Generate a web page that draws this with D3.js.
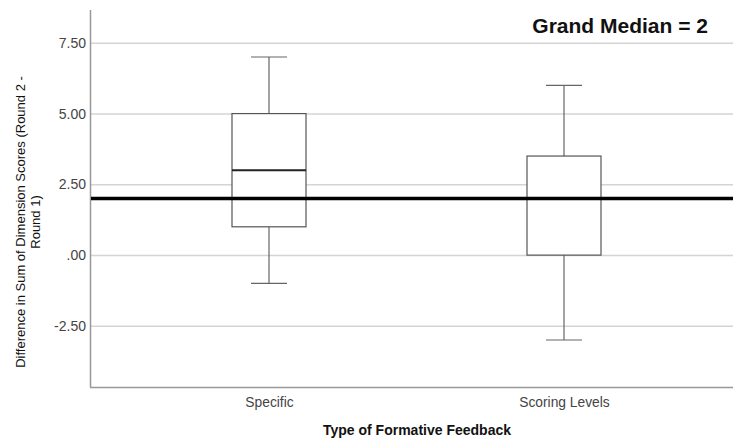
<!DOCTYPE html>
<html><head><meta charset="utf-8">
<script src="https://cdn.jsdelivr.net/npm/d3@7"></script>
<style>body{margin:0;background:#fff}</style>
</head><body>
<svg id="c" width="733" height="439"></svg>
<script>
const categories = ["Specific", "Scoring Levels"];
const mins    = [-1, -3];
const q1s     = [1, 0];
const medians = [3, 2];
const q3s     = [5, 3.5];
const maxs    = [7, 6];
const grandMedian = 2;
const yTicks = [-2.5, 0, 2.5, 5, 7.5];
const yTickLabels = ["-2.50", ".00", "2.50", "5.00", "7.50"];

const svg = d3.select("#c");
const FONT = "Liberation Sans, Arial, sans-serif";
const L = 90, R = 733, T = 10, B = 387;
const y = d3.scaleLinear().domain([-4.66, 8.66]).range([B, T]);
const x = d3.scalePoint().domain(categories).range([269, 564]);
const boxW = 74, capW = 36;

// gridlines
svg.append("g").selectAll("line").data(yTicks).join("line")
  .attr("x1", L).attr("x2", R)
  .attr("y1", d => y(d) + 0.5).attr("y2", d => y(d) + 0.5)
  .attr("stroke", "#d6d3d6").attr("stroke-width", 1.5);

// y axis
const yAxis = d3.axisLeft(y).tickValues(yTicks).tickSize(0).tickPadding(4)
  .tickFormat((d, i) => yTickLabels[i]);
const gy = svg.append("g").attr("transform", `translate(${L},0)`).call(yAxis);
gy.select(".domain").remove();
gy.selectAll("text").attr("font-family", FONT)
  .attr("font-size", 14).attr("fill", "#444");
svg.append("line").attr("x1", L + 0.5).attr("x2", L + 0.5).attr("y1", T).attr("y2", B)
  .attr("stroke", "#999").attr("stroke-width", 1.5);

// x axis
const xAxis = d3.axisBottom(x).tickSize(0).tickPadding(10);
const gx = svg.append("g").attr("transform", `translate(0,${B})`).call(xAxis);
gx.select(".domain").remove();
gx.selectAll("text").attr("font-family", FONT)
  .attr("font-size", 13.8).attr("fill", "#444");
svg.append("line").attr("x1", L).attr("x2", R).attr("y1", B + 0.5).attr("y2", B + 0.5)
  .attr("stroke", "#999").attr("stroke-width", 1.5);

// boxes
const data = categories.map((c, i) => ({c, min: mins[i], q1: q1s[i], med: medians[i], q3: q3s[i], max: maxs[i]}));
const g = svg.append("g").selectAll("g").data(data).join("g");
const stroke = "#666";
g.append("line").attr("x1", d => x(d.c)).attr("x2", d => x(d.c))
  .attr("y1", d => y(d.max)).attr("y2", d => y(d.q3)).attr("stroke", stroke).attr("stroke-width", 1.2);
g.append("line").attr("x1", d => x(d.c)).attr("x2", d => x(d.c))
  .attr("y1", d => y(d.q1)).attr("y2", d => y(d.min)).attr("stroke", stroke).attr("stroke-width", 1.2);
g.append("line").attr("x1", d => x(d.c) - capW / 2).attr("x2", d => x(d.c) + capW / 2)
  .attr("y1", d => y(d.max)).attr("y2", d => y(d.max)).attr("stroke", stroke).attr("stroke-width", 1.2);
g.append("line").attr("x1", d => x(d.c) - capW / 2).attr("x2", d => x(d.c) + capW / 2)
  .attr("y1", d => y(d.min)).attr("y2", d => y(d.min)).attr("stroke", stroke).attr("stroke-width", 1.2);
g.append("rect").attr("x", d => x(d.c) - boxW / 2).attr("width", boxW)
  .attr("y", d => y(d.q3)).attr("height", d => y(d.q1) - y(d.q3))
  .attr("fill", "#fff").attr("stroke", "#555").attr("stroke-width", 1.2);
g.append("line").attr("x1", d => x(d.c) - boxW / 2).attr("x2", d => x(d.c) + boxW / 2)
  .attr("y1", d => y(d.med)).attr("y2", d => y(d.med)).attr("stroke", "#222").attr("stroke-width", 2);

// grand median line
svg.append("line").attr("x1", L + 1).attr("x2", R).attr("y1", y(grandMedian)).attr("y2", y(grandMedian))
  .attr("stroke", "#000").attr("stroke-width", 3.5);

// titles
svg.append("text").attr("x", 708).attr("y", 33).attr("text-anchor", "end")
  .attr("font-family", FONT).attr("font-weight", "bold")
  .attr("font-size", 21).attr("fill", "#111").text("Grand Median = 2");

svg.append("text").attr("x", 417).attr("y", 435).attr("text-anchor", "middle")
  .attr("font-family", FONT).attr("font-weight", "bold")
  .attr("font-size", 14).attr("fill", "#111").text("Type of Formative Feedback");

const yt = svg.append("text").attr("transform", "translate(25,222) rotate(-90)")
  .attr("text-anchor", "middle").attr("font-family", FONT)
  .attr("font-size", 13).attr("fill", "#111");
yt.append("tspan").attr("x", 0).attr("dy", 0).text("Difference in Sum of Dimension Scores (Round 2 -");
yt.append("tspan").attr("x", 0).attr("dy", 15).text("Round 1)");
</script>
</body></html>
